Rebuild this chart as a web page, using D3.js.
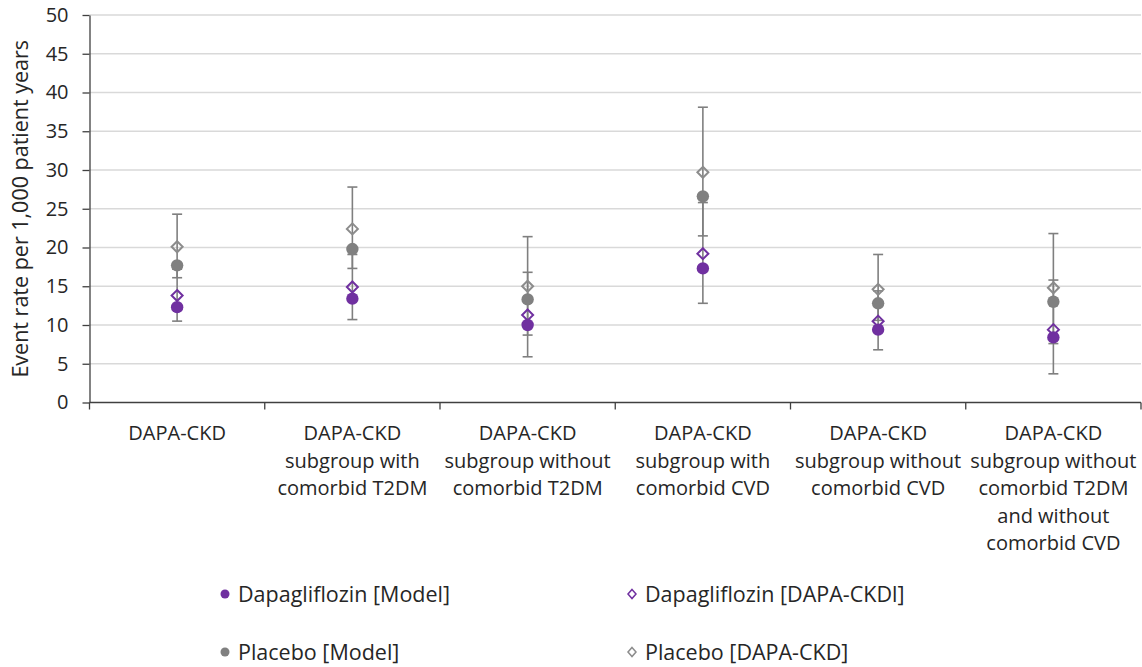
<!DOCTYPE html>
<html>
<head>
<meta charset="utf-8">
<script src="https://cdn.jsdelivr.net/npm/d3@7"></script>
<style>
  html, body { margin: 0; padding: 0; background: #ffffff; }
  svg text { font-family: "Open Sans", Lato, sans-serif; fill: #262626; }
</style>
</head>
<body>
<div id="chart"></div>
<script>
// Categories (label lines)
const categories = [
    ['DAPA-CKD'],
    ['DAPA-CKD', 'subgroup with', 'comorbid T2DM'],
    ['DAPA-CKD', 'subgroup without', 'comorbid T2DM'],
    ['DAPA-CKD', 'subgroup with', 'comorbid CVD'],
    ['DAPA-CKD', 'subgroup without', 'comorbid CVD'],
    ['DAPA-CKD', 'subgroup without', 'comorbid T2DM', 'and without', 'comorbid CVD']
];

// Event rates per 1,000 patient years
const dapaModel = [12.3, 13.4, 10.0, 17.3, 9.4, 8.4];
const placeboModel = [17.7, 19.8, 13.3, 26.6, 12.8, 13.0];
const dapaTrial = [13.8, 14.9, 11.3, 19.2, 10.5, 9.4];
const dapaTrialLow = [10.5, 10.7, 5.9, 12.8, 6.8, 3.7];
const dapaTrialHigh = [17.2, 19.1, 16.8, 25.8, 14.4, 15.8];
const placeboTrial = [20.1, 22.4, 15.0, 29.7, 14.6, 14.8];
const placeboTrialLow = [16.1, 17.3, 8.7, 21.5, 10.6, 7.6];
const placeboTrialHigh = [24.3, 27.8, 21.4, 38.1, 19.1, 21.8];

const yTicks = [0, 5, 10, 15, 20, 25, 30, 35, 40, 45, 50];

const legendItems = [
    { label: 'Dapagliflozin [Model]', shape: 'dot', color: '#7030a0' },
    { label: 'Dapagliflozin [DAPA-CKDl]', shape: 'diamond', color: '#7030a0' },
    { label: 'Placebo [Model]', shape: 'dot', color: '#808080' },
    { label: 'Placebo [DAPA-CKD]', shape: 'diamond', color: '#8c8c8c' }
];

const width = 1142;
const height = 667;
const plot = { left: 89.5, right: 1141, top: 15, bottom: 402.5 };

const colors = {
    purple: '#7030a0',
    grayDot: '#808080',
    grayDiamond: '#8c8c8c',
    errorBar: '#7f7f7f',
    grid: '#d9d9d9',
    axis: '#404040'
};

const svg = d3.select('#chart')
    .append('svg')
    .attr('width', width)
    .attr('height', height);

const idx = d3.range(categories.length);

const x = d3.scaleBand()
    .domain(idx)
    .range([plot.left, plot.right]);

const y = d3.scaleLinear()
    .domain([0, 50])
    .range([plot.bottom, plot.top]);

// Gridlines
svg.append('g')
    .selectAll('line')
    .data(yTicks.filter(d => d > 0))
    .enter()
    .append('line')
    .attr('x1', plot.left)
    .attr('x2', plot.right)
    .attr('y1', d => y(d))
    .attr('y2', d => y(d))
    .attr('stroke', colors.grid)
    .attr('stroke-width', 1.5);

// Y axis
const yAxis = svg.append('g')
    .attr('transform', `translate(${plot.left},0)`)
    .call(d3.axisLeft(y).tickValues(yTicks).tickSize(7).tickPadding(14).tickSizeOuter(0));
yAxis.select('.domain').attr('stroke', colors.axis).attr('stroke-width', 1.3);
yAxis.selectAll('.tick line').attr('stroke', colors.axis).attr('stroke-width', 1.3);
yAxis.selectAll('.tick text')
    .style('font-family', '"Open Sans", sans-serif')
    .style('font-size', '20px')
    .attr('fill', '#262626');

// X axis baseline and boundary ticks
svg.append('line')
    .attr('x1', plot.left)
    .attr('x2', plot.right)
    .attr('y1', y(0))
    .attr('y2', y(0))
    .attr('stroke', colors.axis)
    .attr('stroke-width', 1.3);

svg.append('g')
    .selectAll('line')
    .data(d3.range(categories.length + 1))
    .enter()
    .append('line')
    .attr('x1', i => plot.left + i * x.step())
    .attr('x2', i => plot.left + i * x.step())
    .attr('y1', y(0))
    .attr('y2', y(0) + 7)
    .attr('stroke', colors.axis)
    .attr('stroke-width', 1.3);

// Category labels
const labels = svg.append('g')
    .selectAll('text')
    .data(categories)
    .enter()
    .append('text')
    .attr('text-anchor', 'middle')
    .style('font-size', '20px');

labels.each(function(lines, i) {
    const t = d3.select(this);
    lines.forEach((line, j) => {
        t.append('tspan')
            .attr('x', x(i) + x.bandwidth() / 2)
            .attr('y', 440 + j * 27.5)
            .text(line);
    });
});

// Y axis title
svg.append('text')
    .attr('transform', `translate(28, ${(plot.top + plot.bottom) / 2}) rotate(-90)`)
    .attr('text-anchor', 'middle')
    .style('font-size', '21.5px')
    .text('Event rate per 1,000 patient years');

const cx = i => x(i) + x.bandwidth() / 2;

// Error bars for trial series
function errorBars(low, high) {
    const g = svg.append('g')
        .attr('stroke', colors.errorBar)
        .attr('stroke-width', 1.6);
    idx.forEach(i => {
        g.append('line')
            .attr('x1', cx(i)).attr('x2', cx(i))
            .attr('y1', y(low[i])).attr('y2', y(high[i]));
        [low[i], high[i]].forEach(v => {
            g.append('line')
                .attr('x1', cx(i) - 5).attr('x2', cx(i) + 5)
                .attr('y1', y(v)).attr('y2', y(v));
        });
    });
}
errorBars(dapaTrialLow, dapaTrialHigh);
errorBars(placeboTrialLow, placeboTrialHigh);

const diamond = (w, h) => `M0,${-h} L${w},0 L0,${h} L${-w},0 Z`;

function dots(values, color) {
    svg.append('g')
        .selectAll('circle')
        .data(values)
        .enter()
        .append('circle')
        .attr('cx', (d, i) => cx(i))
        .attr('cy', d => y(d))
        .attr('r', 6.2)
        .attr('fill', color);
}

function diamonds(values, color) {
    svg.append('g')
        .selectAll('path')
        .data(values)
        .enter()
        .append('path')
        .attr('transform', (d, i) => `translate(${cx(i)},${y(d)})`)
        .attr('d', diamond(5.5, 5.5))
        .attr('fill', 'none')
        .attr('stroke', color)
        .attr('stroke-width', 2);
}

diamonds(placeboTrial, colors.grayDiamond);
dots(placeboModel, colors.grayDot);
diamonds(dapaTrial, colors.purple);
dots(dapaModel, colors.purple);

// Legend
const legendPos = [
    { x: 225, y: 594 },
    { x: 632, y: 594 },
    { x: 225, y: 652 },
    { x: 632, y: 652 }
];

const legend = svg.append('g');
legendItems.forEach((item, i) => {
    const p = legendPos[i];
    if (item.shape === 'dot') {
        legend.append('circle')
            .attr('cx', p.x)
            .attr('cy', p.y)
            .attr('r', 4.5)
            .attr('fill', item.color);
    } else {
        legend.append('path')
            .attr('transform', `translate(${p.x},${p.y})`)
            .attr('d', diamond(4, 4.5))
            .attr('fill', 'none')
            .attr('stroke', item.color)
            .attr('stroke-width', 1.5);
    }
    legend.append('text')
        .attr('x', p.x + 13)
        .attr('y', p.y)
        .attr('dy', '0.35em')
        .style('font-size', '21.5px')
        .text(item.label);
});
</script>
</body>
</html>
